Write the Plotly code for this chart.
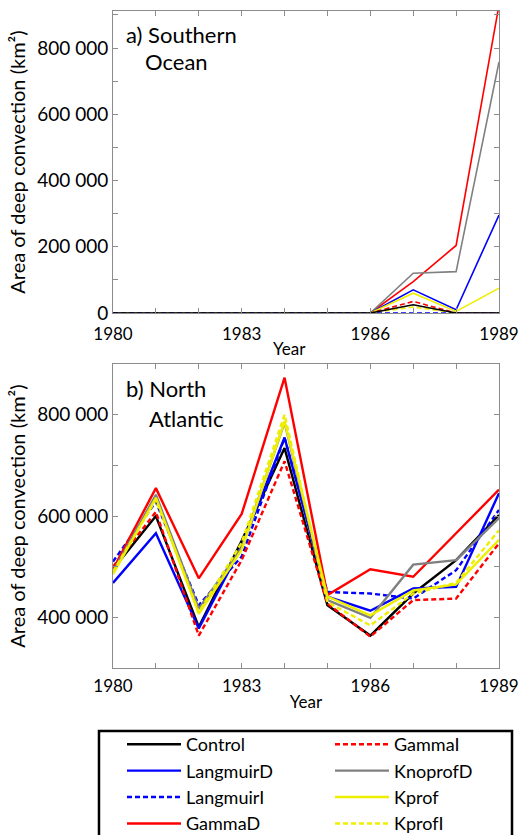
import plotly.graph_objects as go

years = list(range(1980, 1990))
x_tick_vals = list(range(1980, 1990))
x_tick_text = ["1980", "", "", "1983", "", "", "1986", "", "", "1989"]

series_names = ["Control", "LangmuirD", "LangmuirI", "GammaD", "GammaI", "KnoprofD", "Kprof", "KprofI"]
series_colors = ["#000000", "#0000ff", "#0000ff", "#ff0000", "#ff0000", "#808080", "#eeee00", "#eeee00"]
series_dash = ["solid", "solid", "5px,3px", "solid", "5px,3px", "solid", "solid", "5px,3px"]
legend_rank = [1, 3, 5, 7, 2, 4, 6, 8]
so_draw_order = [3, 5, 1, 6, 4, 7, 2, 0]

# a) Southern Ocean (km^2)
so_control   = [0, 0, 0, 0, 0, 0, 0, 25000, 0, 0]
so_langmuirD = [0, 0, 0, 0, 0, 0, 0, 70000, 10000, 296000]
so_langmuirI = [0, 0, 0, 0, 0, 0, 0, 2000, 0, 0]
so_gammaD    = [0, 0, 0, 0, 0, 0, 0, 95000, 204000, 930000]
so_gammaI    = [0, 0, 0, 0, 0, 0, 0, 35000, 0, 0]
so_knoprofD  = [0, 0, 0, 0, 0, 0, 0, 120000, 125000, 758000]
so_kprof     = [0, 0, 0, 0, 0, 0, 0, 60000, 5000, 75000]
so_kprofI    = [0, 0, 0, 0, 0, 0, 0, 18000, 0, 0]

# b) North Atlantic (km^2)
na_control   = [495000, 600000, 381000, 551000, 734000, 424000, 364000, 447000, 513000, 602000]
na_langmuirD = [468000, 566000, 378000, 540000, 755000, 441000, 413000, 457000, 460000, 645000]
na_langmuirI = [510000, 628000, 424000, 520000, 754000, 450000, 447000, 437000, 493000, 612000]
na_gammaD    = [495000, 655000, 477000, 604000, 873000, 444000, 495000, 480000, 566000, 652000]
na_gammaI    = [500000, 608000, 364000, 513000, 708000, 427000, 362000, 434000, 437000, 546000]
na_knoprofD  = [490000, 642000, 417000, 537000, 785000, 434000, 399000, 504000, 513000, 596000]
na_kprof     = [485000, 636000, 407000, 533000, 787000, 441000, 404000, 453000, 465000, 553000]
na_kprofI    = [490000, 632000, 410000, 547000, 800000, 430000, 384000, 447000, 468000, 572000]

so_values = [so_control, so_langmuirD, so_langmuirI, so_gammaD, so_gammaI, so_knoprofD, so_kprof, so_kprofI]
na_values = [na_control, na_langmuirD, na_langmuirI, na_gammaD, na_gammaI, na_knoprofD, na_kprof, na_kprofI]

so_y_ticks = [0, 200000, 400000, 600000, 800000]
so_y_text = ["0", "200 000", "400 000", "600 000", "800 000"]
na_y_ticks = [400000, 600000, 800000]
na_y_text = ["400 000", "600 000", "800 000"]

FONT = "Lato"
fig = go.Figure()

for i in so_draw_order:
    fig.add_trace(go.Scatter(
        x=years, y=so_values[i], mode="lines", name=series_names[i], showlegend=False,
        line=dict(color=series_colors[i], dash=series_dash[i], width=1.6),
        xaxis="x", yaxis="y"))

for i, name in enumerate(series_names):
    fig.add_trace(go.Scatter(
        x=years, y=na_values[i], mode="lines", name=name, showlegend=True,
        legendrank=legend_rank[i],
        line=dict(color=series_colors[i], dash=series_dash[i], width=2.4),
        xaxis="x2", yaxis="y2"))

axis_common = dict(
    showline=True, linecolor="#8c8c8c", linewidth=1, mirror="ticks",
    ticks="inside", ticklen=5, tickcolor="#8c8c8c", showgrid=False, zeroline=False,
)
x_tickfont = dict(family=FONT, size=17, color="black")
y_tickfont = dict(family=FONT, size=19, color="black")

y_title = dict(text="Area of deep convection (km²)", font=dict(family=FONT, size=20, color="black"), standoff=6)
x_title = dict(text="Year", font=dict(family=FONT, size=17, color="black"), standoff=0)

fig.update_layout(
    width=519, height=835,
    margin=dict(l=113, r=20, t=11, b=167, autoexpand=False),
    paper_bgcolor="white", plot_bgcolor="white",
    font=dict(family=FONT, size=17, color="black"),
    xaxis=dict(domain=[0, 1], anchor="y", range=[1980, 1989], tickfont=x_tickfont,
               tickvals=x_tick_vals, ticktext=x_tick_text, ticklabelstandoff=6, **axis_common),
    yaxis=dict(domain=[0.5403, 1], anchor="x", range=[0, 912000], tickfont=y_tickfont,
               tickvals=so_y_ticks, ticktext=so_y_text, title=y_title,
               minor=dict(dtick=100000, ticks="inside", ticklen=5, tickcolor="#8c8c8c"),
               **axis_common),
    xaxis2=dict(domain=[0, 1], anchor="y2", range=[1980, 1989], tickfont=x_tickfont,
                tickvals=x_tick_vals, ticktext=x_tick_text, title=x_title, ticklabelstandoff=3,
                **axis_common),
    yaxis2=dict(domain=[0, 0.4627], anchor="x2", range=[300000, 900000], tickfont=y_tickfont,
                tickvals=na_y_ticks, ticktext=na_y_text, title=y_title,
                minor=dict(dtick=100000, ticks="inside", ticklen=5, tickcolor="#8c8c8c"),
                **axis_common),
    legend=dict(orientation="h", x=-0.0026, y=-0.0731, xanchor="left", yanchor="top",
                borderwidth=10, bordercolor="rgba(0,0,0,0)", bgcolor="rgba(0,0,0,0)",
                entrywidth=139, entrywidthmode="pixels", itemwidth=54,
                font=dict(family=FONT, size=18, color="black"),
                traceorder="normal"),
    shapes=[
        dict(type="rect", xref="paper", yref="paper", x0=-0.0363, x1=1.0337, y0=-0.0959, y1=-0.27,
             line=dict(color="black", width=2.5), fillcolor="rgba(0,0,0,0)", layer="below"),
    ],
    annotations=[
        dict(text="Year", xref="paper", yref="paper", x=0.456, y=0.486,
             xanchor="center", yanchor="middle", showarrow=False, font=dict(family=FONT, size=17)),
        dict(text="a) Southern", xref="paper", yref="paper", x=0.0285, y=0.9635,
             xanchor="left", yanchor="middle", showarrow=False, font=dict(family=FONT, size=22)),
        dict(text="Ocean", xref="paper", yref="paper", x=0.0777, y=0.9224,
             xanchor="left", yanchor="middle", showarrow=False, font=dict(family=FONT, size=22)),
        dict(text="b) North", xref="paper", yref="paper", x=0.0285, y=0.4247,
             xanchor="left", yanchor="middle", showarrow=False, font=dict(family=FONT, size=22)),
        dict(text="Atlantic", xref="paper", yref="paper", x=0.088, y=0.379,
             xanchor="left", yanchor="middle", showarrow=False, font=dict(family=FONT, size=22)),
    ],
)

fig.write_html("out.html", config={"displayModeBar": False},
               post_script="document.body.style.margin='0px';")
